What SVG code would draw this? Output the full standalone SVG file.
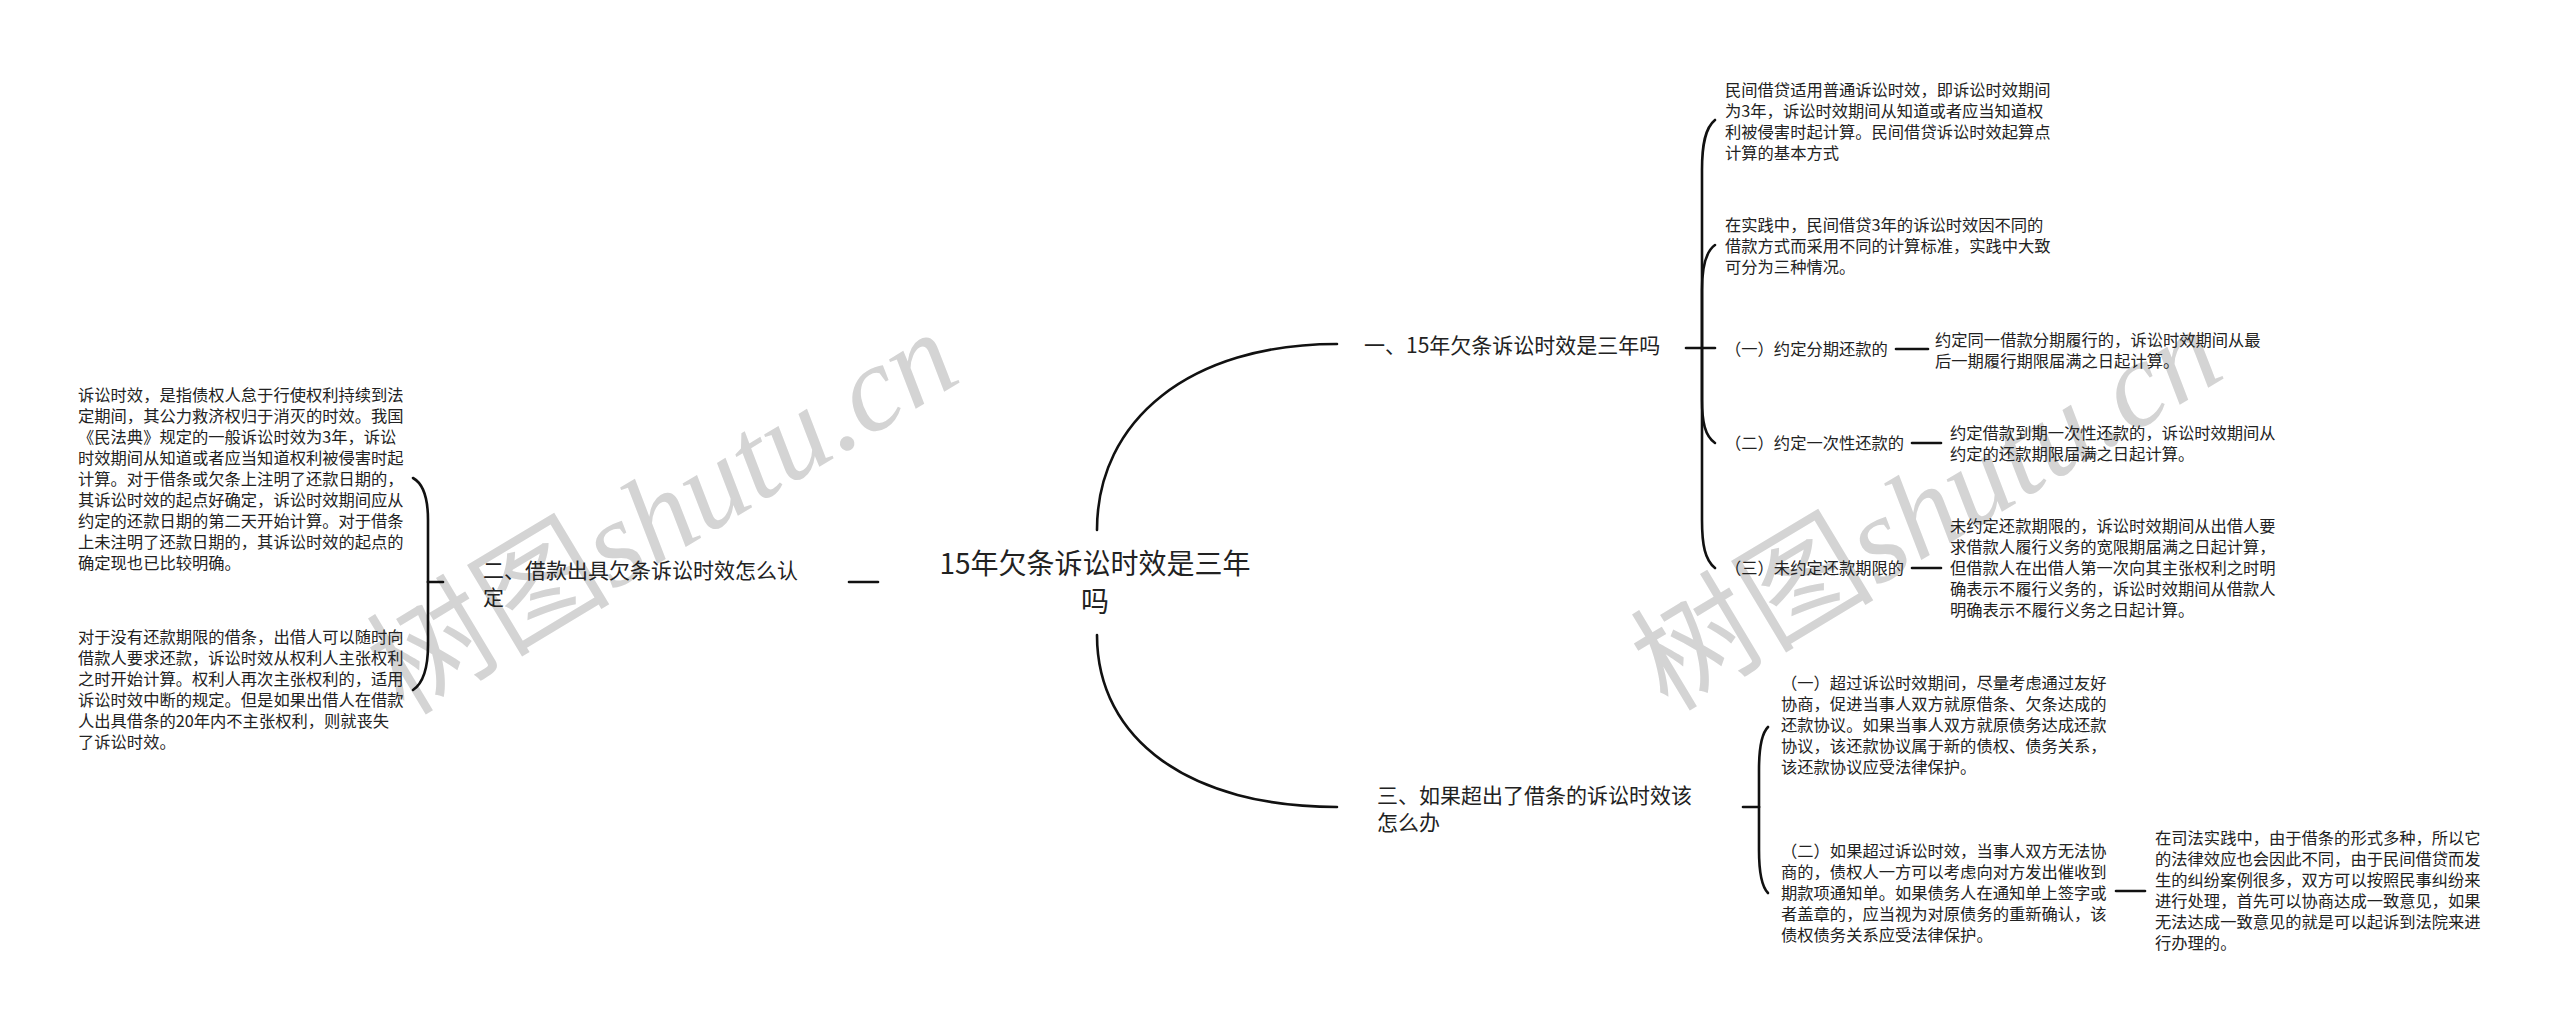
<svg xmlns="http://www.w3.org/2000/svg" width="2560" height="1033" viewBox="0 0 2560 1033">
<style>
.t{font-family:"Noto Sans CJK SC","Noto Sans",sans-serif;fill:#222;}
.s{font-size:16.3px;}
.m{font-size:21px;}
.r{font-size:28px;}
.c{fill:none;stroke:#111;stroke-width:2.6;stroke-linecap:round;}
.wm{fill:#d4d4d4;}
.wc{font-family:"Noto Sans CJK SC",sans-serif;}
.wl{font-family:"Liberation Serif",serif;font-style:italic;}
</style>
<rect width="2560" height="1033" fill="#fff"/>
<g id="watermarks" class="wm">
<text transform="translate(684,548) rotate(-31)" text-anchor="middle" font-size="122"><tspan class="wc">树图</tspan><tspan class="wl">shutu.cn</tspan></text>
<text transform="translate(1948,544) rotate(-31)" text-anchor="middle" font-size="122"><tspan class="wc">树图</tspan><tspan class="wl">shutu.cn</tspan></text>
</g>
<g id="connectors" class="c">
<path d="M1097 530 C1097 420 1190 344 1337 344"/>
<path d="M1097 635 C1097 740 1190 807 1337 807"/>
<path d="M849 582 L878 582"/>
<path d="M1686 348 L1715 348"/>
<path d="M1702 348 L1702 170 C1702 145 1705 128 1715 120"/>
<path d="M1702 348 L1702 290 C1702 268 1705 252 1715 245"/>
<path d="M1702 348 L1702 400 C1702 422 1705 436 1715 443"/>
<path d="M1702 348 L1702 520 C1702 545 1705 560 1715 568"/>
<path d="M1896 349 L1928 349"/>
<path d="M1912 443 L1941 443"/>
<path d="M1912 568 L1941 568"/>
<path d="M1743 807 L1759 807"/>
<path d="M1759 807 L1759 770 C1759 745 1762 733 1768 727"/>
<path d="M1759 807 L1759 850 C1759 875 1762 887 1768 893"/>
<path d="M2116 891 L2145 891"/>
<path d="M443 582 L428 582"/>
<path d="M428 582 L428 520 C428 495 422 483 413 478"/>
<path d="M428 582 L428 645 C428 670 422 684 413 690"/>
</g>
<g id="root" class="t r">
<text x="1095" y="574" text-anchor="middle">15年欠条诉讼时效是三年</text>
<text x="1095" y="612" text-anchor="middle">吗</text>
</g>
<g id="n1" class="t m"><text x="1364" y="353">一、15年欠条诉讼时效是三年吗</text></g>
<g id="n2" class="t m"><text x="483" y="578">二、借款出具欠条诉讼时效怎么认</text><text x="483" y="605">定</text></g>
<g id="n3" class="t m"><text x="1377" y="803">三、如果超出了借条的诉讼时效该</text><text x="1377" y="830">怎么办</text></g>
<g id="n1c1" class="t s">
<text x="1725" y="96">民间借贷适用普通诉讼时效，即诉讼时效期间</text>
<text x="1725" y="117">为3年，诉讼时效期间从知道或者应当知道权</text>
<text x="1725" y="138">利被侵害时起计算。民间借贷诉讼时效起算点</text>
<text x="1725" y="159">计算的基本方式</text>
</g>
<g id="n1c2" class="t s">
<text x="1725" y="231">在实践中，民间借贷3年的诉讼时效因不同的</text>
<text x="1725" y="252">借款方式而采用不同的计算标准，实践中大致</text>
<text x="1725" y="273">可分为三种情况。</text>
</g>
<g id="n1c3" class="t s"><text x="1725" y="355">（一）约定分期还款的</text></g>
<g id="n1c3d" class="t s">
<text x="1935" y="346">约定同一借款分期履行的，诉讼时效期间从最</text>
<text x="1935" y="367">后一期履行期限届满之日起计算。</text>
</g>
<g id="n1c4" class="t s"><text x="1725" y="449">（二）约定一次性还款的</text></g>
<g id="n1c4d" class="t s">
<text x="1950" y="439">约定借款到期一次性还款的，诉讼时效期间从</text>
<text x="1950" y="460">约定的还款期限届满之日起计算。</text>
</g>
<g id="n1c5" class="t s"><text x="1725" y="574">（三）未约定还款期限的</text></g>
<g id="n1c5d" class="t s">
<text x="1950" y="532">未约定还款期限的，诉讼时效期间从出借人要</text>
<text x="1950" y="553">求借款人履行义务的宽限期届满之日起计算，</text>
<text x="1950" y="574">但借款人在出借人第一次向其主张权利之时明</text>
<text x="1950" y="595">确表示不履行义务的，诉讼时效期间从借款人</text>
<text x="1950" y="616">明确表示不履行义务之日起计算。</text>
</g>
<g id="n2c1" class="t s">
<text x="78" y="401">诉讼时效，是指债权人怠于行使权利持续到法</text>
<text x="78" y="422">定期间，其公力救济权归于消灭的时效。我国</text>
<text x="78" y="443">《民法典》规定的一般诉讼时效为3年，诉讼</text>
<text x="78" y="464">时效期间从知道或者应当知道权利被侵害时起</text>
<text x="78" y="485">计算。对于借条或欠条上注明了还款日期的，</text>
<text x="78" y="506">其诉讼时效的起点好确定，诉讼时效期间应从</text>
<text x="78" y="527">约定的还款日期的第二天开始计算。对于借条</text>
<text x="78" y="548">上未注明了还款日期的，其诉讼时效的起点的</text>
<text x="78" y="569">确定现也已比较明确。</text>
</g>
<g id="n2c2" class="t s">
<text x="78" y="643">对于没有还款期限的借条，出借人可以随时向</text>
<text x="78" y="664">借款人要求还款，诉讼时效从权利人主张权利</text>
<text x="78" y="685">之时开始计算。权利人再次主张权利的，适用</text>
<text x="78" y="706">诉讼时效中断的规定。但是如果出借人在借款</text>
<text x="78" y="727">人出具借条的20年内不主张权利，则就丧失</text>
<text x="78" y="748">了诉讼时效。</text>
</g>
<g id="n3c1" class="t s">
<text x="1781" y="689">（一）超过诉讼时效期间，尽量考虑通过友好</text>
<text x="1781" y="710">协商，促进当事人双方就原借条、欠条达成的</text>
<text x="1781" y="731">还款协议。如果当事人双方就原债务达成还款</text>
<text x="1781" y="752">协议，该还款协议属于新的债权、债务关系，</text>
<text x="1781" y="773">该还款协议应受法律保护。</text>
</g>
<g id="n3c2" class="t s">
<text x="1781" y="857">（二）如果超过诉讼时效，当事人双方无法协</text>
<text x="1781" y="878">商的，债权人一方可以考虑向对方发出催收到</text>
<text x="1781" y="899">期款项通知单。如果债务人在通知单上签字或</text>
<text x="1781" y="920">者盖章的，应当视为对原债务的重新确认，该</text>
<text x="1781" y="941">债权债务关系应受法律保护。</text>
</g>
<g id="n3c2d" class="t s">
<text x="2155" y="844">在司法实践中，由于借条的形式多种，所以它</text>
<text x="2155" y="865">的法律效应也会因此不同，由于民间借贷而发</text>
<text x="2155" y="886">生的纠纷案例很多，双方可以按照民事纠纷来</text>
<text x="2155" y="907">进行处理，首先可以协商达成一致意见，如果</text>
<text x="2155" y="928">无法达成一致意见的就是可以起诉到法院来进</text>
<text x="2155" y="949">行办理的。</text>
</g>
</svg>
